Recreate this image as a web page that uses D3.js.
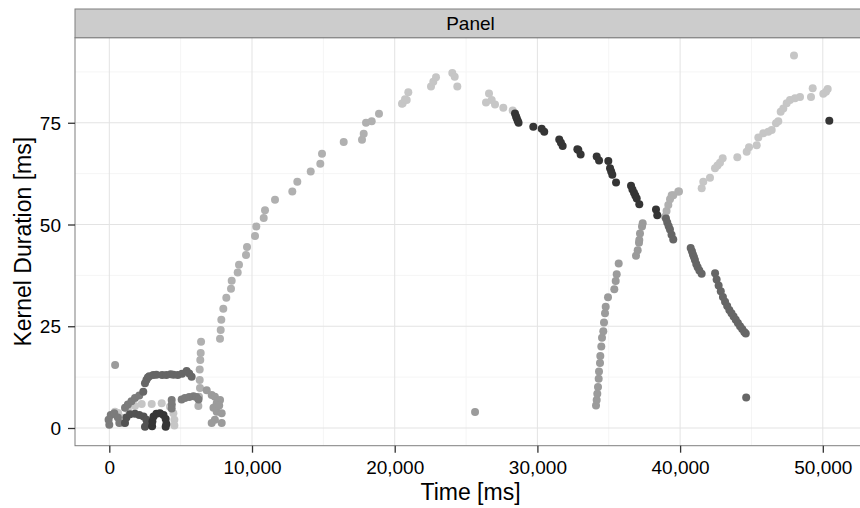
<!DOCTYPE html>
<html lang="en">
<head>
<meta charset="UTF-8">
<title>Kernel Duration over Time</title>
<script src="https://d3js.org/d3.v7.min.js"></script>
<style>
  body { margin: 0; background: #fff; }
  text { font-family: "Liberation Sans", Arial, sans-serif; }
</style>
</head>
<body>
<script>

// data: [time in ms, kernel duration in ms] per kernel series
var kernelA = [
  [3000,0.4],[3020,1.6],[3100,2.8],[3300,3.5],[3550,3.6],[3800,3.2],[3950,2.2],[4000,1.0],[3950,0.3],
  [28430,77.3],[28500,76.6],[28550,76.1],[28620,75.5],[28680,75.0],[29712,74.0],[30300,73.5],[30480,72.8],
  [31530,70.9],[31650,70.1],[31770,69.3],[32800,68.5],[32870,68.3],[33030,67.2],[34155,66.7],[34320,65.7],
  [34970,65.6],[35090,63.8],[35170,63.0],[35250,62.2],[35510,60.3],[36560,59.5],[36660,58.6],[36770,57.8],
  [36860,57.1],[36960,56.4],[37140,55.0],[38310,53.7],[38400,52.3],[50455,75.5]
];
var kernelB = [
  [1100,1.2],[1200,2.6],[1450,3.4],[1800,3.5],[2100,3.2],[2400,2.8],[2600,2.0],[2650,1.0],[2500,0.3]
];
var kernelC = [
  [2380,8.9],[2500,11.0],[2600,11.8],[2700,12.4],[2800,12.7],[3080,13.0],[3300,13.1],[3700,13.0],[4000,13.0],
  [4300,13.2],[4500,13.1],[4800,13.0],[5100,13.3],[5420,14.0],[5600,13.4],[5770,12.6],
  [39010,51.5],[39100,50.5],[39200,49.6],[39290,48.8],[39400,47.5],[39520,46.3],[40740,44.2],[40830,43.4],
  [40900,42.6],[40970,42.0],[41040,41.3],[41130,40.3],[41230,39.5],[41350,38.7],[41510,37.9],[42450,38.0],
  [42560,36.5],[42700,35.0],[42850,33.6],[43000,32.2],[43150,31.0],[43300,30.0],[43450,29.0],[43600,28.2],
  [43750,27.4],[43900,26.6],[44050,25.8],[44200,25.0],[44350,24.3],[44500,23.6],[44600,23.2],[44630,7.5]
];
var kernelD = [
  [0,0.8],[-50,2.0],[100,3.2],[350,3.6],[600,2.6],[700,1.2],[1100,5.0],[1300,5.8],[1550,6.6],[1800,7.4],
  [2100,8.0],[4370,6.9],[4380,5.8],[4370,4.8],[5070,7.0],[5300,7.4],[5600,7.6],[5900,7.8],[6100,7.6],[6250,7.0]
];
var kernelE = [
  [406,15.5],[25630,3.9],
  [6825,9.3],[7175,8.1],[7400,7.7],[7525,6.1],[7525,4.0],[7400,2.0],[7875,3.6],[7875,1.2],[7175,1.2],
  [7760,6.9],[7300,5.0],[7700,5.5],
  [34107,5.5],[34155,6.9],[34197,8.4],[34246,10.1],[34295,12.1],[34317,13.9],[34387,16.0],[34408,17.7],
  [34478,20.0],[34527,22.2],[34618,23.8],[34667,25.9],[34737,28.2],[34786,29.8],[34947,32.1],[35389,34.1],
  [35487,36.1],[35557,37.8],[35697,40.4],[36909,42.3],[37028,43.7],[37119,45.5],[37140,46.2],[37189,47.8],
  [37330,49.5],[37378,50.3]
];
var kernelF = [
  [6240,5.4],[6285,7.7],[6355,9.8],[6335,11.8],[6335,14.4],[6375,16.7],[6405,18.4],[6430,21.2],[7757,21.9],
  [7807,24.1],[7849,26.6],[7989,29.3],[8199,32.0],[8528,34.2],[8577,36.2],[8998,38.2],[9089,40.1],[9580,42.5],
  [9650,44.5],[10210,47.2],[10301,49.5],[10820,51.6],[10911,53.5],[11612,56.1],[12824,58.1],[13175,60.5],
  [14114,63.0],[14786,64.9],[14905,67.4],[16426,70.3],[17708,70.8],[17827,72.3],[17989,75.0],[18388,75.4],
  [18899,77.2],
  [38941,51.9],[39050,53.3],[39173,54.8],[39292,56.2],[39410,57.2],[39523,57.2],[39874,58.1],[39922,58.1]
];
var kernelG = [
  [400,4.0],[620,3.7],[900,2.5],[1000,1.2],[1300,4.6],[1800,5.4],[2270,5.9],[2970,5.9],[3670,6.1],[4250,5.2],
  [4490,3.6],[4560,2.0],[4560,0.6],
  [20511,79.7],[20561,79.8],[20722,80.8],[20840,80.6],[20953,82.5],[22544,83.9],[22705,85.1],[22894,86.2],
  [24036,87.2],[24204,86.3],[24387,83.9],[26398,80.0],[26608,82.2],[26797,80.6],[27030,79.5],[27611,78.7],
  [28268,78.0],
  [41513,58.9],[41625,60.5],[42094,61.5],[42445,63.8],[42620,64.5],[42795,65.2],[42984,66.3],[44009,66.5],
  [44667,67.9],[44828,69.0],[45368,69.5],[45480,71.4],[45830,72.4],[46180,72.8],[46418,73.2],[46719,74.9],
  [46880,75.4],[47049,77.7],[47232,78.5],[47470,79.8],[47701,80.6],[48052,81.0],[48402,81.3],[49173,81.3],
  [49292,83.5],[50035,82.1],[50224,82.6],[50343,83.3],[47981,91.5]
];

var seriesNames = ["G", "F", "E", "D", "C", "B", "A"];
var seriesData = [kernelG, kernelF, kernelE, kernelD, kernelC, kernelB, kernelA];

var xTicks = [0, 10000, 20000, 30000, 40000, 50000];
var xMinor = [5000, 15000, 25000, 35000, 45000];
var yTicks = [0, 25, 50, 75];
var yMinor = [12.5, 37.5, 62.5, 87.5];

var width = 860, height = 508;
var panel = {left: 75, right: 866, top: 37.7, bottom: 445.7};

var svg = d3.select("body").append("svg")
    .attr("width", width)
    .attr("height", height);

var x = d3.scaleLinear()
    .domain([-2404, 53027])
    .range([panel.left, panel.right]);

var y = d3.scaleLinear()
    .domain([-4.35, 95.9])
    .range([panel.bottom, panel.top]);

var color = d3.scaleOrdinal()
    .domain(seriesNames)
    .range(["#c6c6c6", "#b0b0b0", "#9b9b9b", "#7b7b7b", "#666666", "#535353", "#353535"]);

// panel background
svg.append("rect")
    .attr("x", panel.left).attr("y", panel.top)
    .attr("width", panel.right - panel.left)
    .attr("height", panel.bottom - panel.top)
    .attr("fill", "#fff");

// grid lines
var grid = svg.append("g");
grid.selectAll(".xminor").data(xMinor).enter().append("line")
    .attr("x1", function(d) { return x(d); }).attr("x2", function(d) { return x(d); })
    .attr("y1", panel.top).attr("y2", panel.bottom)
    .attr("stroke", "#f5f5f5").attr("stroke-width", 1);
grid.selectAll(".yminor").data(yMinor).enter().append("line")
    .attr("y1", function(d) { return y(d); }).attr("y2", function(d) { return y(d); })
    .attr("x1", panel.left).attr("x2", panel.right)
    .attr("stroke", "#f5f5f5").attr("stroke-width", 1);
grid.selectAll(".xmajor").data(xTicks).enter().append("line")
    .attr("x1", function(d) { return x(d); }).attr("x2", function(d) { return x(d); })
    .attr("y1", panel.top).attr("y2", panel.bottom)
    .attr("stroke", "#e3e3e3").attr("stroke-width", 1);
grid.selectAll(".ymajor").data(yTicks).enter().append("line")
    .attr("y1", function(d) { return y(d); }).attr("y2", function(d) { return y(d); })
    .attr("x1", panel.left).attr("x2", panel.right)
    .attr("stroke", "#e3e3e3").attr("stroke-width", 1);

// points, one group per kernel
svg.append("g")
  .selectAll("g")
  .data(seriesData)
  .enter().append("g")
    .attr("fill", function(d, i) { return color(seriesNames[i]); })
  .selectAll("circle")
  .data(function(d) { return d; })
  .enter().append("circle")
    .attr("cx", function(d) { return x(d[0]); })
    .attr("cy", function(d) { return y(d[1]); })
    .attr("r", 4);

// panel border
svg.append("rect")
    .attr("x", panel.left).attr("y", panel.top)
    .attr("width", panel.right - panel.left)
    .attr("height", panel.bottom - panel.top)
    .attr("fill", "none")
    .attr("stroke", "#7f7f7f").attr("stroke-width", 1);

// facet strip
svg.append("rect")
    .attr("x", panel.left).attr("y", 9)
    .attr("width", panel.right - panel.left)
    .attr("height", panel.top - 9)
    .attr("fill", "#cccccc")
    .attr("stroke", "#7f7f7f").attr("stroke-width", 1);
svg.append("text")
    .attr("x", (panel.left + panel.right) / 2)
    .attr("y", 30)
    .attr("text-anchor", "middle")
    .attr("font-size", 19)
    .text("Panel");

// axes
var xAxis = svg.append("g")
    .attr("transform", "translate(0," + panel.bottom + ")")
    .call(d3.axisBottom(x).tickValues(xTicks).tickFormat(d3.format(",")).tickSize(7).tickPadding(8));
var yAxis = svg.append("g")
    .attr("transform", "translate(" + panel.left + ",0)")
    .call(d3.axisLeft(y).tickValues(yTicks).tickSize(7).tickPadding(7));

[xAxis, yAxis].forEach(function(a) {
  a.select(".domain").remove();
  a.selectAll(".tick line").attr("stroke", "#333").attr("stroke-width", 1.3);
  a.selectAll(".tick text").attr("fill", "#000").attr("font-size", 19)
    .attr("font-family", "'Liberation Sans', Arial, sans-serif");
});
yAxis.selectAll(".tick text").attr("dy", "0.35em");

// axis titles
svg.append("text")
    .attr("x", (panel.left + panel.right) / 2)
    .attr("y", 500)
    .attr("text-anchor", "middle")
    .attr("font-size", 23)
    .text("Time [ms]");
svg.append("text")
    .attr("transform", "translate(31," + ((panel.top + panel.bottom) / 2) + ") rotate(-90)")
    .attr("text-anchor", "middle")
    .attr("font-size", 23)
    .text("Kernel Duration [ms]");

</script>
</body>
</html>
